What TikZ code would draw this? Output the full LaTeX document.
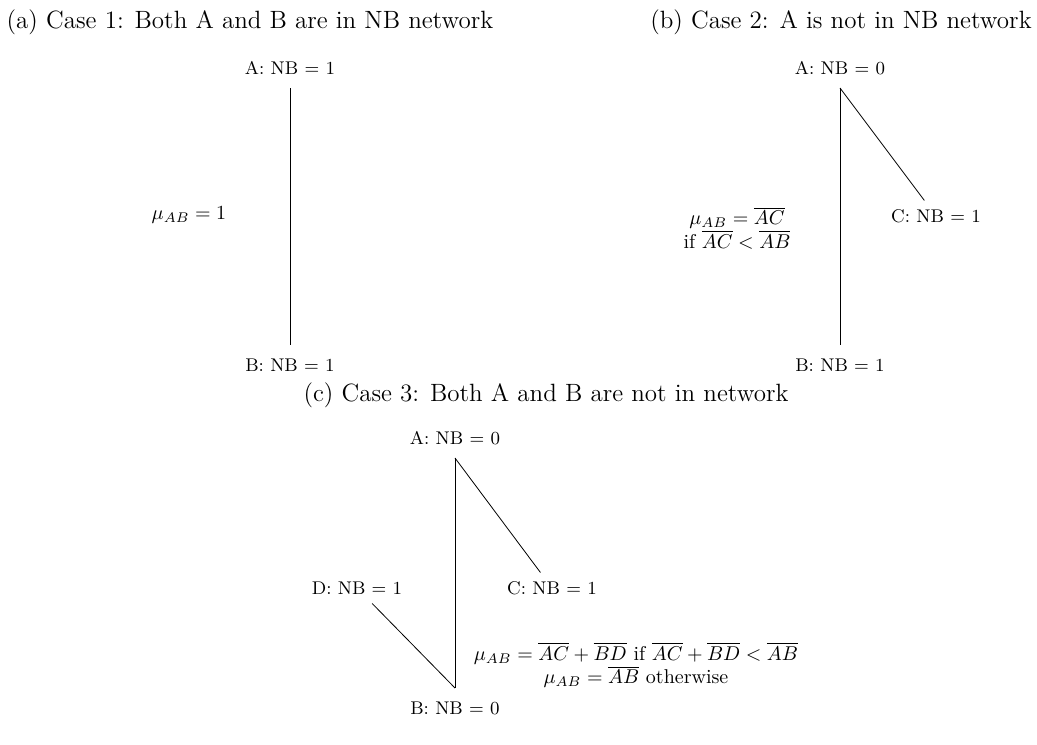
\documentclass[tikz,border=0pt]{standalone}
\usepackage{tikz}
\usetikzlibrary{positioning}

\begin{document}
\begin{tikzpicture}[
  x=0.5pt, y=-0.5pt,
  title/.style={font=\fontsize{12.5}{15}\selectfont, inner sep=0pt},
  endnode/.style={font=\fontsize{9.2}{11}\selectfont, text height=6.3pt, text depth=0pt, inner sep=3pt, outer sep=3.85pt},
  sidenode/.style={font=\fontsize{9.2}{11}\selectfont, text height=6.3pt, text depth=0pt, inner sep=3pt, outer sep=1.6pt},
  cost/.style={font=\fontsize{10}{10.5}\selectfont, align=center, inner sep=1pt},
  edge/.style={line width=0.4pt}
]
  \path[use as bounding box] (0,0) rectangle (1037,744);

  % (a) both in network
  \node[title] (ta) at (250,22) {(a) Case 1: Both A and B are in NB network};
  \node[endnode] (aA) at (290,68) {A: NB = 1};
  \node[endnode, below=128.5pt of aA] (aB) {B: NB = 1};
  \node[cost] (amu) at (189,215) {$\mu_{AB} = 1$};
  \draw[edge] (aA) -- (aB);

  % (b) A outside
  \node[title] (tb) at (841,22) {(b) Case 2: A is not in NB network};
  \node[endnode] (bA) at (840,68) {A: NB = 0};
  \node[endnode, below=128.5pt of bA] (bB) {B: NB = 1};
  \node[sidenode] (bC) at (936,216) {C: NB = 1};
  \node[cost] (bmu) at (737,228) {$\mu_{AB} = \overline{AC}$\\if $\overline{AC} < \overline{AB}$};
  \draw[edge] (bA) -- (bB);
  \draw[edge] (bA.south) -- (bC);

  % (c) both outside
  \node[title] (tc) at (546,395) {(c) Case 3: Both A and B are not in network};
  \node[endnode] (cA) at (455,438) {A: NB = 0};
  \node[endnode, below=115pt of cA] (cB) {B: NB = 0};
  \node[sidenode] (cC) at (552,588) {C: NB = 1};
  \node[sidenode] (cD) at (357,588) {D: NB = 1};
  \node[cost] (cmu) at (636,665) {$\mu_{AB} = \overline{AC}+\overline{BD}$ if $\overline{AC}+\overline{BD} < \overline{AB}$\\$\mu_{AB} = \overline{AB}$ otherwise};
  \draw[edge] (cA) -- (cB);
  \draw[edge] (cA.south) -- (cC);
  \draw[edge] (cB.north) -- (cD);
\end{tikzpicture}
\end{document}
